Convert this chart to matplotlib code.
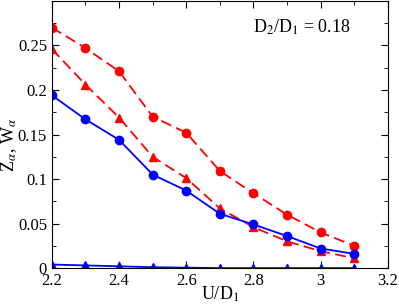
import matplotlib
matplotlib.use("Agg")
import matplotlib.pyplot as plt
from matplotlib.ticker import MultipleLocator

plt.rcParams['font.family'] = ['Liberation Serif', 'DejaVu Serif']
plt.rcParams['mathtext.fontset'] = 'stix'

u = [2.2, 2.3, 2.4, 2.5, 2.6, 2.7, 2.8, 2.9, 3.0, 3.1]
z_red = [0.270, 0.247, 0.221, 0.170, 0.152, 0.109, 0.084, 0.060, 0.040, 0.025]
w_red = [0.246, 0.206, 0.169, 0.125, 0.101, 0.067, 0.046, 0.030, 0.019, 0.011]
z_blue = [0.194, 0.167, 0.144, 0.105, 0.087, 0.061, 0.049, 0.036, 0.022, 0.016]
w_blue = [0.004, 0.003, 0.002, 0.001, 0.0005, 0.0, 0.0, 0.0, 0.0, 0.0]

fig = plt.figure(figsize=(3.99, 3.05), dpi=100)
ax = fig.add_axes([0.130, 0.121, 0.842, 0.876])

red = '#ff0000'
blue = '#0000ff'
ax.plot(u, z_red, color=red, ls=(0, (6, 3)), lw=1.3, marker='o', ms=6)
ax.plot(u, w_red, color=red, ls=(0, (6, 3)), lw=1.3, marker='^', ms=6)
ax.plot(u, z_blue, color=blue, ls='-', lw=1.3, marker='o', ms=6)
ax.plot(u, w_blue, color=blue, ls='-', lw=1.3, marker='^', ms=6)

ax.set_xlim(2.2, 3.2)
ax.set_ylim(0, 0.3)
ax.xaxis.set_minor_locator(MultipleLocator(0.1))
ax.yaxis.set_minor_locator(MultipleLocator(0.025))
ax.set_yticks([0, 0.05, 0.1, 0.15, 0.2, 0.25])
ax.set_yticklabels(['0', '0.05', '0.1', '0.15', '0.2', '0.25'])
ax.set_xticks([2.2, 2.4, 2.6, 2.8, 3.0, 3.2])
ax.set_xticklabels(['2.2', '2.4', '2.6', '2.8', '3', '3.2'])
ax.tick_params(which='both', direction='in', top=True, right=True, labelsize=12)
ax.tick_params(which='major', length=5)
ax.tick_params(which='minor', length=3)

ax.set_xlabel(r'U/D$_1$', fontsize=13)
ax.xaxis.set_label_coords(0.5, -0.06)
ax.set_ylabel(r'Z$_\alpha$, W$_\alpha$', fontsize=13)
ax.yaxis.set_label_coords(-0.098, 0.46)
ax.text(0.60, 0.88, r'D$_2$/D$_1$ = 0.18', transform=ax.transAxes, fontsize=13)

fig.savefig('out.png', dpi=100)
